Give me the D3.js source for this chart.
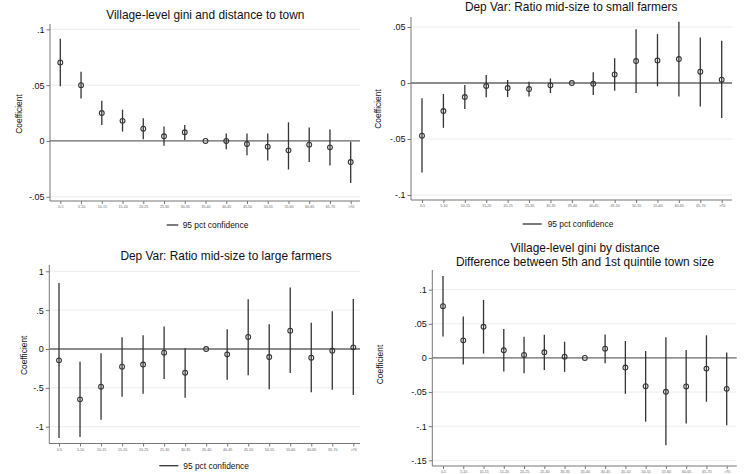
<!DOCTYPE html>
<html><head><meta charset="utf-8">
<script src="https://cdn.jsdelivr.net/npm/d3@7"></script>
<style>
html,body{margin:0;padding:0;background:#fff;}
svg{display:block;font-family:"Liberation Sans",Arial,Helvetica,sans-serif;}
</style></head>
<body>
<svg id="chart" width="750" height="474"></svg>
<script>
// ---------- DATA ----------
const categories = ["0-5","5-10","10-15","15-20","20-25","25-30","30-35","35-40","40-45","45-50","50-55","55-60","60-65","65-70",">70"];

const giniCoef = [0.0703,0.050,0.025,0.018,0.011,0.0042,0.0078,0,0,-0.0027,-0.0051,-0.0084,-0.0033,-0.0057,-0.0189];
const giniLo   = [0.049,0.038,0.0144,0.0084,0.0015,-0.0042,0.0009,0,-0.0075,-0.0129,-0.0174,-0.0255,-0.0189,-0.0219,-0.0377];
const giniHi   = [0.0916,0.062,0.036,0.028,0.0203,0.0129,0.0144,0,0.0066,0.0066,0.0066,0.0167,0.012,0.0102,-0.0006];

const smallCoef = [-0.047,-0.025,-0.0125,-0.0027,-0.0045,-0.0054,-0.0021,0,-0.0006,0.0077,0.0196,0.0202,0.0214,0.0101,0.003];
const smallLo   = [-0.080,-0.040,-0.0232,-0.0128,-0.0125,-0.012,-0.0089,0,-0.0107,-0.0069,-0.0089,-0.003,-0.012,-0.0209,-0.0313];
const smallHi   = [-0.0137,-0.0098,-0.0018,0.0071,0.0027,0.0012,0.0041,0,0.0095,0.022,0.048,0.0437,0.0547,0.0407,0.0378];

const largeCoef = [-0.146,-0.648,-0.485,-0.227,-0.20,-0.047,-0.305,0,-0.069,0.155,-0.103,0.236,-0.112,-0.021,0.021];
const largeLo   = [-1.146,-1.133,-0.91,-0.614,-0.575,-0.386,-0.627,0,-0.395,-0.339,-0.519,-0.309,-0.558,-0.524,-0.592];
const largeHi   = [0.85,-0.163,-0.056,0.150,0.176,0.288,0.009,0,0.253,0.64,0.318,0.79,0.339,0.485,0.644];

const diffCoef = [0.0759,0.0258,0.0457,0.0112,0.0044,0.0083,0.0019,0,0.0136,-0.0141,-0.0414,-0.0496,-0.0418,-0.0156,-0.0453];
const diffLo   = [0.0316,-0.0097,0.0063,-0.020,-0.0224,-0.0175,-0.0204,0,-0.0078,-0.0526,-0.0934,-0.128,-0.0959,-0.0642,-0.0988];
const diffHi   = [0.120,0.0608,0.085,0.0423,0.0311,0.034,0.0238,0,0.0345,0.0248,0.0102,0.0302,0.0117,0.0331,0.0078];

const giniTicks  = [-0.05,0,0.05,0.1],          giniTickLabels  = ["-.05","0",".05",".1"];
const smallTicks = [-0.1,-0.05,0,0.05],         smallTickLabels = ["-.1","-.05","0",".05"];
const largeTicks = [-1,-0.5,0,0.5,1],           largeTickLabels = ["-1","-.5","0",".5","1"];
const diffTicks  = [-0.15,-0.1,-0.05,0,0.05,0.1], diffTickLabels = ["-.15","-.1","-.05","0",".05",".1"];

const titles = [
  ["Village-level gini and distance to town"],
  ["Dep Var: Ratio mid-size to small farmers"],
  ["Dep Var: Ratio mid-size to large farmers"],
  ["Village-level gini by distance","Difference between 5th and 1st quintile town size"]
];
const yLabel = "Coefficient";
const legendLabel = "95 pct confidence";

// ---------- LAYOUT ----------
const panels = [
  {coef:giniCoef, lo:giniLo, hi:giniHi, ticks:giniTicks, tl:giniTickLabels, title:titles[0],
   x0:60.3, x1:350.7, axL:50, axR:360, dom:[-0.05,0.1], rng:[196.8,29.3], axTop:24, axBot:201,
   tx:205.3, ty:[18.5], ylx:21.5, yly:114, leg:{y:225, x0:166.7, x1:178.3, tx:182.7}, xly:207},
  {coef:smallCoef, lo:smallLo, hi:smallHi, ticks:smallTicks, tl:smallTickLabels, title:titles[1],
   x0:422, x1:721.7, axL:411, axR:732, dom:[-0.1,0.05], rng:[195,27], axTop:17, axBot:200,
   tx:571.2, ty:[11.2], ylx:380.5, yly:109, leg:{y:224, x0:522.7, x1:541.7, tx:547.7}, xly:206},
  {coef:largeCoef, lo:largeLo, hi:largeHi, ticks:largeTicks, tl:largeTickLabels, title:titles[2],
   x0:59, x1:353.3, axL:49.3, axR:360, dom:[-1,1], rng:[426.7,271.3], axTop:265, axBot:443.5,
   tx:226, ty:[260.3], ylx:26.5, yly:355.3, leg:{y:465.7, x0:159.3, x1:178.3, tx:183.3}, xly:450},
  {coef:diffCoef, lo:diffLo, hi:diffHi, ticks:diffTicks, tl:diffTickLabels, title:titles[3],
   x0:443, x1:726.7, axL:432.3, axR:736.7, dom:[-0.15,0.1], rng:[460.3,289.7], axTop:270, axBot:466,
   tx:585, ty:[252,265.5], ylx:383, yly:364.5, leg:null, xly:472}
];

const svg = d3.select("#chart");
const axisColor = "#777";
const ink = "#333";

panels.forEach(p => {
  const g = svg.append("g");
  const x = d3.scalePoint().domain(categories).range([p.x0, p.x1]);
  const y = d3.scaleLinear().domain(p.dom).range(p.rng);

  // gridlines
  g.selectAll(".grid").data(p.ticks.filter(t => t !== 0)).join("line")
    .attr("x1", p.axL).attr("x2", p.axR)
    .attr("y1", d => y(d)).attr("y2", d => y(d))
    .attr("stroke", "#ececec").attr("stroke-width", 1);

  // zero line
  g.append("line").attr("x1", p.axL).attr("x2", p.axR)
    .attr("y1", y(0)).attr("y2", y(0))
    .attr("stroke", "#666").attr("stroke-width", 1.3);

  // y axis
  const yAxis = d3.axisLeft(y).tickValues(p.ticks)
    .tickFormat((d,i) => p.tl[i]).tickSize(3.5).tickPadding(2);
  const ya = g.append("g").attr("transform", `translate(${p.axL},0)`).call(yAxis);
  ya.select(".domain").remove();
  ya.selectAll(".tick line").attr("stroke", axisColor);
  ya.selectAll(".tick text").attr("fill", "#111").attr("font-size", 9)
    .attr("font-family", "Liberation Sans, Arial, sans-serif");
  g.append("line").attr("x1", p.axL).attr("x2", p.axL).attr("y1", p.axTop).attr("y2", p.axBot)
    .attr("stroke", axisColor).attr("stroke-width", 1);

  // x axis
  const xAxis = d3.axisBottom(x).tickSize(3).tickPadding(1.5);
  const xa = g.append("g").attr("transform", `translate(0,${p.axBot})`).call(xAxis);
  xa.select(".domain").remove();
  xa.selectAll(".tick line").attr("stroke", axisColor);
  xa.selectAll(".tick text").attr("fill", "#666").attr("font-size", 3.6)
    .attr("font-family", "Liberation Sans, Arial, sans-serif");
  g.append("line").attr("x1", p.axL).attr("x2", p.axR).attr("y1", p.axBot).attr("y2", p.axBot)
    .attr("stroke", axisColor).attr("stroke-width", 1);

  // CI spikes
  g.selectAll(".ci").data(categories).join("line")
    .attr("x1", d => x(d)).attr("x2", d => x(d))
    .attr("y1", (d,i) => y(p.lo[i])).attr("y2", (d,i) => y(p.hi[i]))
    .attr("stroke", ink).attr("stroke-width", 1.3);

  // points
  g.selectAll(".pt").data(categories).join("circle")
    .attr("cx", d => x(d)).attr("cy", (d,i) => y(p.coef[i]))
    .attr("r", 2.4).attr("fill", "none").attr("stroke", ink).attr("stroke-width", 1.1);

  // title
  p.title.forEach((t,i) => {
    g.append("text").attr("x", p.tx).attr("y", p.ty[i]).attr("text-anchor", "middle")
      .attr("font-size", 11.9).attr("fill", "#111").text(t);
  });

  // y label
  g.append("text").attr("transform", `translate(${p.ylx},${p.yly}) rotate(-90)`)
    .attr("text-anchor", "middle").attr("font-size", 8.4).attr("fill", "#111").text(yLabel);

  // legend
  if (p.leg) {
    g.append("line").attr("x1", p.leg.x0).attr("x2", p.leg.x1).attr("y1", p.leg.y).attr("y2", p.leg.y)
      .attr("stroke", ink).attr("stroke-width", 1.3);
    g.append("text").attr("x", p.leg.tx).attr("y", p.leg.y + 3).attr("font-size", 8.4)
      .attr("fill", "#111").text(legendLabel);
  }
});
</script>
</body></html>
